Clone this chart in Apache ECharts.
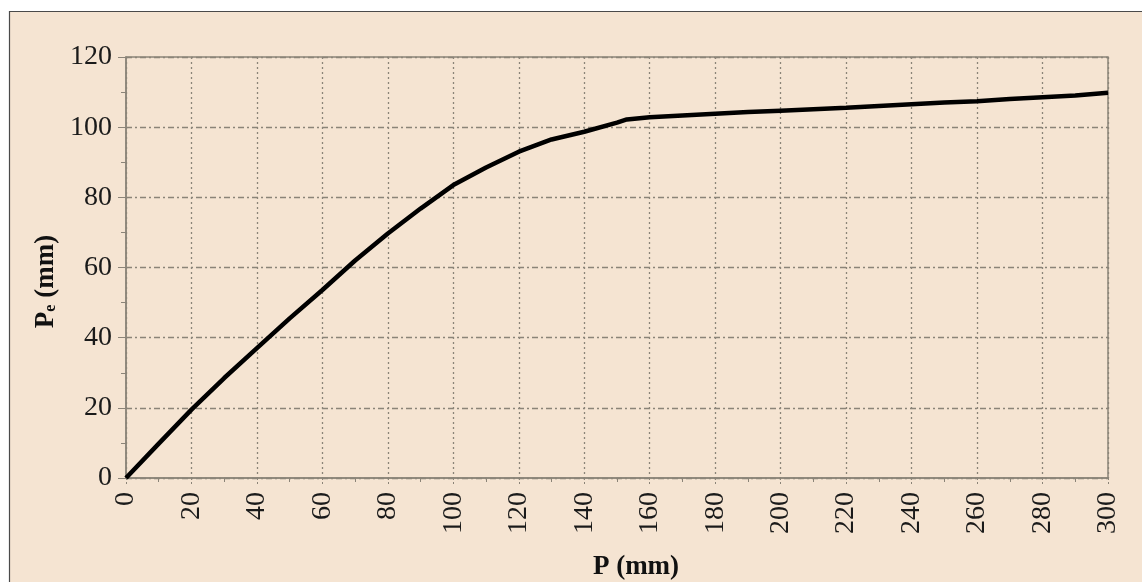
<!DOCTYPE html>
<html>
<head>
<meta charset="utf-8">
<script src="https://cdn.jsdelivr.net/npm/echarts@6/dist/echarts.min.js"></script>
<style>
html,body{margin:0;padding:0;background:#ffffff;}
#chart{width:1142px;height:582px;}
</style>
</head>
<body>
<div id="chart"></div>
<script>
// Data
const xValues = [0,10,20,30,40,50,60,70,80,90,100,110,120,130,140,150,153,160,170,180,190,200,210,220,230,240,250,260,270,280,290,300];
const yValues = [0,9.8,19.5,28.5,37,45.5,53.6,62,69.7,76.8,83.5,88.5,93,96.5,98.7,101.3,102.2,102.8,103.3,103.8,104.3,104.7,105.1,105.5,106,106.5,107,107.4,108,108.5,109,109.8];
const xTicks = [0,20,40,60,80,100,120,140,160,180,200,220,240,260,280,300];
const yTicks = [0,20,40,60,80,100,120];
const xName = 'P (mm)';
const yNameMain = 'P';
const yNameSub = 'e';
const yNameUnit = ' (mm)';

const points = xValues.map((x, i) => [x, yValues[i]]);
const gridGrey = '#8b8478';
const font = 'Liberation Serif';

const chart = echarts.init(document.getElementById('chart'));
chart.setOption({
  backgroundColor: 'transparent',
  animation: false,
  graphic: [{
    type: 'rect', z: -10,
    shape: {x: 9.5, y: 11.5, width: 1200, height: 700},
    style: {fill: '#f5e4d2', stroke: '#4a4a4a', lineWidth: 1.2}
  }],
  grid: {left: 126, right: 34, top: 57, bottom: 104, show: true, borderColor: gridGrey, borderWidth: 1.5,
    backgroundColor: 'transparent', containLabel: false, outerBoundsMode: 'none'},
  xAxis: {
    type: 'value', min: 0, max: 300, interval: 20,
    name: xName, nameLocation: 'middle', nameGap: 76,
    nameTextStyle: {fontFamily: font, fontWeight: 'bold', fontSize: 27, color: '#111', padding: [0, 0, 0, 38]},
    axisLine: {show: true, lineStyle: {color: gridGrey, width: 1.5}},
    axisTick: {show: true, length: 8, inside: false, lineStyle: {color: gridGrey, type: [2, 2]}},
    minorTick: {show: true, splitNumber: 2, length: 4, lineStyle: {color: gridGrey}},
    axisLabel: {rotate: 90, margin: 14, fontFamily: font, fontSize: 28, color: '#1a1a1a',
      formatter: v => xTicks.includes(v) ? String(v) : ''},
    splitLine: {show: true, lineStyle: {color: gridGrey, type: [2, 3], width: 1.3}}
  },
  yAxis: {
    type: 'value', min: 0, max: 120, interval: 20,
    name: '{b|' + yNameMain + '}{s|' + yNameSub + '}{b|' + yNameUnit + '}',
    nameLocation: 'middle', nameGap: 57, nameRotate: 90,
    nameTextStyle: {padding: [0, 28, 0, 0],
      rich: {
        b: {fontFamily: font, fontWeight: 'bold', fontSize: 27, color: '#111'},
        s: {fontFamily: font, fontWeight: 'bold', fontSize: 16, color: '#111', padding: [10, 0, 0, 0]}
      }},
    axisLine: {show: true, lineStyle: {color: gridGrey, width: 1.5}},
    axisTick: {show: true, length: 8, lineStyle: {color: gridGrey}},
    minorTick: {show: true, splitNumber: 2, length: 5, lineStyle: {color: gridGrey}},
    axisLabel: {margin: 14, fontFamily: font, fontSize: 28, color: '#1a1a1a',
      formatter: v => yTicks.includes(v) ? String(v) : ''},
    splitLine: {show: true, lineStyle: {color: gridGrey, type: [6, 3, 2, 3], width: 1.3}}
  },
  series: [{
    type: 'line', data: points, showSymbol: false, smooth: false,
    lineStyle: {color: '#000', width: 4.5}
  }]
});
</script>
</body>
</html>
